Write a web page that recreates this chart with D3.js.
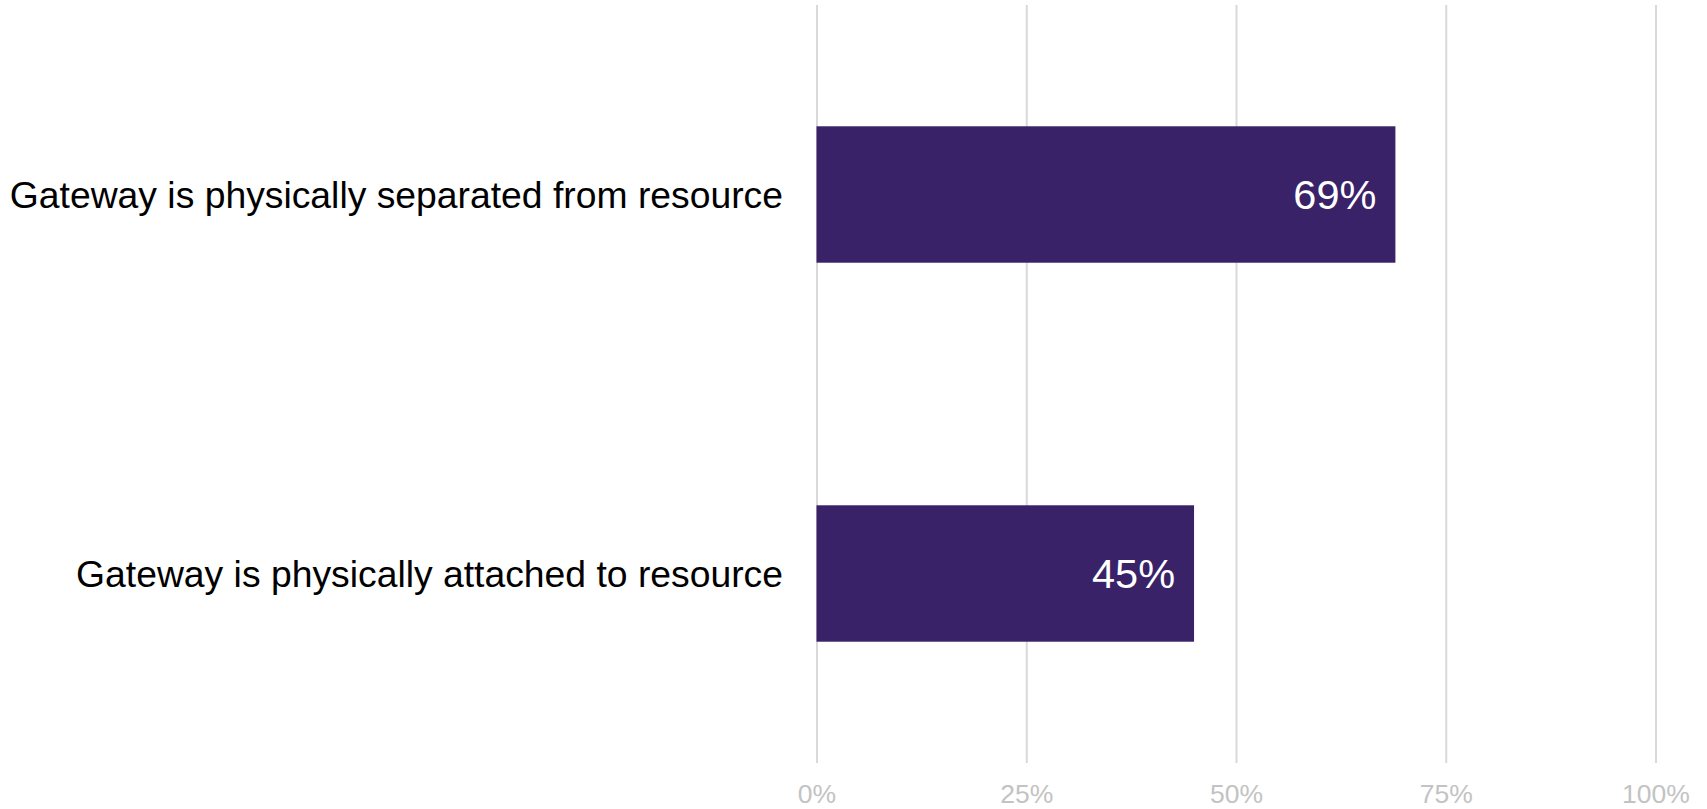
<!DOCTYPE html>
<html>
<head>
<meta charset="utf-8">
<script src="https://cdn.jsdelivr.net/npm/d3@7"></script>
<style>
  html, body { margin: 0; padding: 0; background: #ffffff; }
  svg { display: block; }
</style>
</head>
<body>
<svg id="chart" width="1707" height="809"></svg>
<script>
const categories = [
  "Gateway is physically separated from resource",
  "Gateway is physically attached to resource"
];
const values = [0.69, 0.45];
const tickValues = [0, 0.25, 0.5, 0.75, 1];
const tickLabels = ["0%", "25%", "50%", "75%", "100%"];

const plotLeft = 816.5, plotRight = 1655.5, plotTop = 5, plotBottom = 763;

const svg = d3.select("#chart");

const x = d3.scaleLinear().domain([0, 1]).range([plotLeft, plotRight]);
const y = d3.scaleBand().domain(categories).range([plotTop, plotBottom])
  .paddingInner(0.64).paddingOuter(0.32);

// gridlines + tick labels via axis
const axis = d3.axisBottom(x)
  .tickValues(tickValues)
  .tickFormat((d, i) => tickLabels[i])
  .tickSizeInner(-(plotBottom - plotTop))
  .tickSizeOuter(0);

const gAxis = svg.append("g")
  .attr("transform", `translate(0,${plotBottom})`)
  .call(axis);
gAxis.select(".domain").remove();
gAxis.selectAll(".tick line")
  .attr("stroke", "#d9d9d9")
  .attr("stroke-width", 2);
gAxis.selectAll(".tick text")
  .attr("y", 40)
  .attr("dy", 0)
  .attr("fill", "#c3c3c3")
  .style("font-family", "Arial, 'Liberation Sans', sans-serif")
  .style("font-size", "26.5px");

// bars
svg.append("g").selectAll("rect")
  .data(categories)
  .join("rect")
  .attr("x", x(0))
  .attr("y", d => y(d))
  .attr("width", (d, i) => x(values[i]) - x(0))
  .attr("height", y.bandwidth())
  .attr("fill", "#392268");

// value labels
svg.append("g").selectAll("text")
  .data(categories)
  .join("text")
  .attr("x", (d, i) => x(values[i]) - 19)
  .attr("y", d => y(d) + y.bandwidth() / 2)
  .attr("dy", "0.36em")
  .attr("text-anchor", "end")
  .attr("fill", "#ffffff")
  .style("font-family", "Arial, 'Liberation Sans', sans-serif")
  .style("font-size", "41.5px")
  .text((d, i) => Math.round(values[i] * 100) + "%");

// category labels
svg.append("g").selectAll("text")
  .data(categories)
  .join("text")
  .attr("x", 783)
  .attr("y", d => y(d) + y.bandwidth() / 2)
  .attr("dy", "0.36em")
  .attr("text-anchor", "end")
  .attr("fill", "#000000")
  .style("font-family", "Arial, 'Liberation Sans', sans-serif")
  .style("font-size", "37.3px")
  .text(d => d);
</script>
</body>
</html>
